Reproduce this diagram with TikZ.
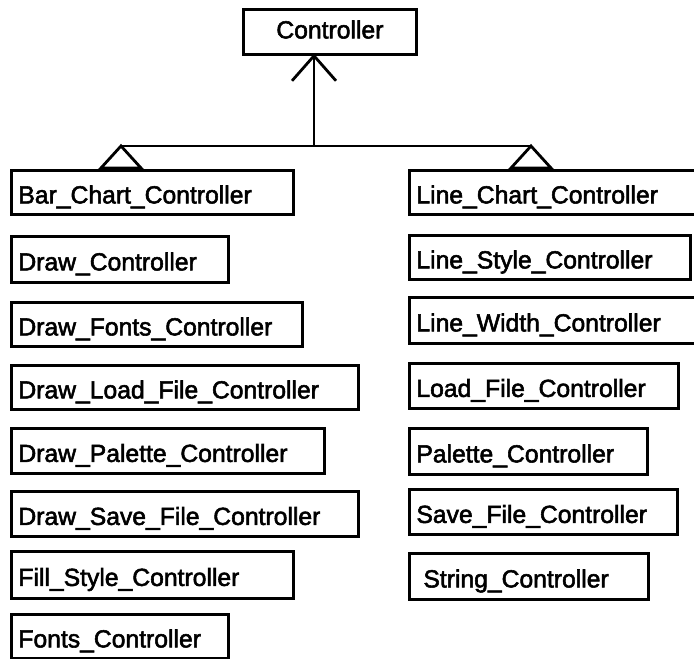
\documentclass[tikz,border=0pt]{standalone}
\usepackage{fontspec}
\newfontfamily\classfont[FakeBold=2.2]{Liberation Sans}
\begin{document}
\begin{tikzpicture}[x=1pt, y=-1pt, line width=2.8pt,
  cls/.style={draw, anchor=north west, inner xsep=7pt, inner ysep=0pt,
    align=left, text height=22pt, text depth=0pt,
    font=\classfont\fontsize{24.7}{28}\selectfont},
  root/.style={draw, anchor=north west, inner sep=0pt,
    text height=13pt, text depth=0pt,
    font=\classfont\fontsize{24.7}{28}\selectfont}]
\fill[white] (0,0) rectangle (694,659);
\clip (0,0) rectangle (694,659);

% superclass
\node[root, minimum width=173pt, minimum height=45pt] (ctrl) at (242,8) {Controller};

% left column of subclasses
\node[cls, text width=268pt, minimum height=44pt] (bar)    at (10,169) {Bar\_Chart\_Controller};
\node[cls, text width=203pt, minimum height=46pt] (draw)   at (10,235) {Draw\_Controller};
\node[cls, text width=277pt, minimum height=44pt] (dfont)  at (10,301) {Draw\_Fonts\_Controller};
\node[cls, text width=333pt, minimum height=44pt] (dload)  at (10,364) {Draw\_Load\_File\_Controller};
\node[cls, text width=299pt, minimum height=45pt] (dpal)   at (10,427) {Draw\_Palette\_Controller};
\node[cls, text width=333pt, minimum height=45pt] (dsave)  at (10,490) {Draw\_Save\_File\_Controller};
\node[cls, text width=268pt, minimum height=47pt] (fill)   at (10,550) {Fill\_Style\_Controller};
\node[cls, text width=203pt, minimum height=44pt] (fonts)  at (10,613) {Fonts\_Controller};

% right column of subclasses
\node[cls, text width=278pt, minimum height=44pt] (line)   at (408,169) {Line\_Chart\_Controller};
\node[cls, text width=267pt, minimum height=44pt] (lstyle) at (408,234) {Line\_Style\_Controller};
\node[cls, text width=278pt, minimum height=46pt] (lwidth) at (408,296) {Line\_Width\_Controller};
\node[cls, text width=255pt, minimum height=45pt] (load)   at (408,362) {Load\_File\_Controller};
\node[cls, text width=224pt, minimum height=46pt] (pal)    at (408,427) {Palette\_Controller};
\node[cls, text width=254pt, minimum height=45pt] (save)   at (408,488) {Save\_File\_Controller};
\node[cls, inner xsep=14pt, text width=211pt, minimum height=46pt] (str) at (408,552) {String\_Controller};

% inheritance connectors
\coordinate (hub)   at (314,146);
\coordinate (tip)   at (hub |- ctrl.south);
\coordinate (lapex) at (121,146);
\coordinate (rapex) at (531,146);
\draw (hub) -- (tip);
\draw (tip) ++(-22,25) -- (tip) -- ++(22,25);
\draw (lapex) -- (rapex);
\draw (lapex) -- ++(-20,22) -- ++(40,0) -- cycle;
\draw (rapex) -- ++(-20,22) -- ++(40,0) -- cycle;
\end{tikzpicture}
\end{document}
